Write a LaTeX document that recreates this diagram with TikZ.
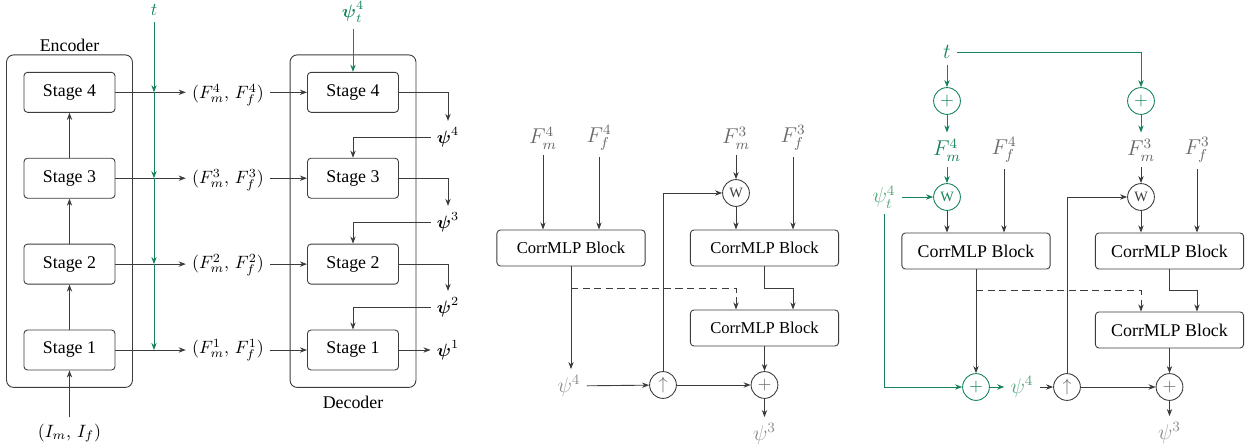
\documentclass[tikz,border=0pt]{standalone}
\usepackage{amsmath}
\usepackage{fontspec}
\setmainfont{LiberationSerif}[
    Extension=.ttf,
    UprightFont=*-Regular,
    BoldFont=*-Bold,
    ItalicFont=*-Italic,
    BoldItalicFont=*-BoldItalic]
\usetikzlibrary{positioning, calc, arrows.meta, fit}

\definecolor{tgreen}{RGB}{22,132,88}
\definecolor{tgreenl}{RGB}{80,165,122}
\definecolor{lnk}{RGB}{60,60,60}
\definecolor{lgray}{RGB}{105,105,105}
\definecolor{vlgray}{RGB}{140,140,140}

\begin{document}
\begin{tikzpicture}[
    x=0.56pt, y=-0.56pt,
    % Node styles
    stagebox/.style={
        draw=lnk, rounded corners=2pt, line width=0.5pt,
        minimum width=51pt, minimum height=22.4pt
    },
    blockbox/.style={
        draw=lnk, rounded corners=2pt, line width=0.5pt,
        minimum width=83pt, minimum height=20.2pt
    },
    opnode/.style={
        draw=lnk, circle, line width=0.5pt, text=lgray,
        minimum size=15pt, inner sep=0pt
    },
    gopnode/.style={opnode, draw=tgreen, text=tgreen},
    outerbox/.style={
        draw=lnk, rounded corners=4pt, line width=0.5pt, inner sep=9.5pt
    },
    biglbl/.style={font=\large},
    % Arrow styles
    arr/.style={-{Stealth[length=4pt, width=3pt]}, draw=lnk, line width=0.5pt},
    garr/.style={arr, draw=tgreen},
    dasharr/.style={arr, dash pattern=on 4pt off 2.5pt},
]
\useasboundingbox (0,0) rectangle (1248,448);

% ===== LEFT: encoder / decoder =====

% Encoder stages
\node[stagebox] (e1) at (69.5,350) {Stage 1};
\node[stagebox, above=25.2pt of e1] (e2) {Stage 2};
\node[stagebox, above=25.2pt of e2] (e3) {Stage 3};
\node[stagebox, above=25.2pt of e3] (e4) {Stage 4};
\draw[arr] (e1) -- (e2);
\draw[arr] (e2) -- (e3);
\draw[arr] (e3) -- (e4);

\node[outerbox, fit=(e1)(e4)] (enc) {};
\node (enc-lbl) at (69.5,45) {Encoder};

% Input
\node (inp) at (69.5,433) {$(I_m,\, I_f)$};
\draw[arr] (inp) -- (e1);

% Decoder stages
\node[stagebox] (d1) at (353,350) {Stage 1};
\node[stagebox, above=25.2pt of d1] (d2) {Stage 2};
\node[stagebox, above=25.2pt of d2] (d3) {Stage 3};
\node[stagebox, above=25.2pt of d3] (d4) {Stage 4};

\node[outerbox, fit=(d1)(d4)] (dec) {};
\node (dec-lbl) at (353,402) {Decoder};

% Feature pairs
\node (f1) at (228,350) {$(F^1_m,\, F^1_f)$};
\node (f2) at (228,265) {$(F^2_m,\, F^2_f)$};
\node (f3) at (228,180) {$(F^3_m,\, F^3_f)$};
\node (f4) at (228,95) {$(F^4_m,\, F^4_f)$};
\foreach \i in {1,...,4} {
    \draw[arr] (e\i.east) -- (e\i.east -| f\i.west);
    \draw[arr] (f\i.east |- d\i.west) -- (d\i.west);
}

% Time step line
\node[text=tgreen] (tin) at (154,10) {$t$};
\coordinate (tr4) at (tin |- e4);
\coordinate (tr3) at (tin |- e3);
\coordinate (tr2) at (tin |- e2);
\coordinate (tr1) at (tin |- e1);
\draw[garr] (tin) -- (tr4);
\draw[garr] (tr4) -- (tr3);
\draw[garr] (tr3) -- (tr2);
\draw[garr] (tr2) -- (tr1);

\node[text=tgreen] (psit) at (353,12) {$\boldsymbol{\psi}_t^4$};
\draw[garr] (psit) -- (d4.north);

% Deformation outputs
\node (p4) at (448,137) {$\boldsymbol{\psi}^4$};
\node (p3) at (448,222) {$\boldsymbol{\psi}^3$};
\node (p2) at (448,307) {$\boldsymbol{\psi}^2$};
\node (p1) at (448,350) {$\boldsymbol{\psi}^1$};
\draw[arr] (d4.east) -| (p4);
\draw[arr] (p4.west) -| (d3.north);
\draw[arr] (d3.east) -| (p3);
\draw[arr] (p3.west) -| (d2.north);
\draw[arr] (d2.east) -| (p2);
\draw[arr] (p2.west) -| (d1.north);
\draw[arr] (d1.east) -- (d1.east -| p1.west);

% ===== MIDDLE: coarse-to-fine step =====

\node[blockbox, font=\fontsize{9.3}{11}\selectfont] (mb1) at (571,248) {CorrMLP Block};
\node[blockbox, font=\fontsize{9.3}{11}\selectfont] (mb2) at (764.5,248) {CorrMLP Block};
\node[blockbox, font=\fontsize{9.3}{11}\selectfont] (mb3) at (764.5,328) {CorrMLP Block};

\node[biglbl, text=lgray] (mfm4) at (543,138) {$F^4_m$};
\node[biglbl, text=lgray] (mff4) at (599,138) {$F^4_f$};
\node[biglbl, text=lgray] (mfm3) at (736,138) {$F^3_m$};
\node[biglbl, text=lgray] (mff3) at (793,138) {$F^3_f$};
\node[opnode, text=lnk] (mw) at (736,193) {\footnotesize W};

\draw[arr] (mfm4) -- (mfm4 |- mb1.north);
\draw[arr] (mff4) -- (mff4 |- mb1.north);
\draw[arr] (mfm3) -- (mw);
\draw[arr] (mw) -- (mw |- mb2.north);
\draw[arr] (mff3) -- (mff3 |- mb2.north);

\coordinate (mj) at ($(mb2.south)!0.5!(mb3.north)$);
\draw[arr] (mb2.south) -- (mj) -| (mff3 |- mb3.north);
\draw[dasharr] (mb1.south |- mj) -| (mw |- mb3.north);

\node[biglbl, text=vlgray] (mpsi4) at (569,386) {$\psi^4$};
\node[opnode] (mup) at (663,385) {$\uparrow$};
\node[opnode] (mplus) at (764.5,385) {$+$};
\node[biglbl, text=vlgray] (mpsi3) at (764.5,434) {$\psi^3$};

\draw[arr] (mb1.south) -- (mb1.south |- mpsi4.north);
\draw[arr] (mpsi4) -- (mup);
\draw[arr] (mup) |- (mw);
\draw[arr] (mup) -- (mplus);
\draw[arr] (mb3) -- (mplus);
\draw[arr] (mplus) -- (mpsi3);

% ===== RIGHT: diffusion-conditioned step =====

\node[blockbox] (rb1) at (976,251) {CorrMLP Block};
\node[blockbox] (rb2) at (1169.5,251) {CorrMLP Block};
\node[blockbox] (rb3) at (1169.5,330) {CorrMLP Block};

\node[biglbl, text=tgreen] (rt) at (947,52) {$t$};
\node[gopnode] (rpa) at (947,101) {$+$};
\node[gopnode] (rpb) at (1141,101) {$+$};
\draw[garr] (rt) -- (rpa);
\draw[garr] (rt) -| (rpb);

\node[biglbl, text=tgreen] (rfm4) at (947,150) {$F^4_m$};
\node[biglbl, text=lgray] (rff4) at (1004,150) {$F^4_f$};
\node[biglbl, text=lgray] (rfm3) at (1141,150) {$F^3_m$};
\node[biglbl, text=lgray] (rff3) at (1197,150) {$F^3_f$};
\draw[garr] (rpa) -- (rfm4);
\draw[garr] (rpb) -- (rfm3);

\node[gopnode] (rwa) at (947,197) {\footnotesize W};
\node[opnode, text=lnk] (rwb) at (1141,197) {\footnotesize W};
\node[biglbl, text=tgreenl] (rpsit) at (884,197) {$\psi^4_t$};
\draw[garr] (rfm4) -- (rwa);
\draw[arr] (rfm3) -- (rwb);
\draw[garr] (rpsit) -- (rwa);

\draw[arr] (rwa) -- (rwa |- rb1.north);
\draw[arr] (rff4) -- (rff4 |- rb1.north);
\draw[arr] (rwb) -- (rwb |- rb2.north);
\draw[arr] (rff3) -- (rff3 |- rb2.north);

\coordinate (rj) at ($(rb2.south)!0.5!(rb3.north)$);
\draw[arr] (rb2.south) -- (rj) -| (rff3 |- rb3.north);
\draw[dasharr] (rb1.south |- rj) -| (rwb |- rb3.north);

\node[gopnode] (rsum) at (976,387) {$+$};
\node[biglbl, text=tgreenl] (rpsi4) at (1022,387) {$\psi^4$};
\node[opnode] (rup) at (1067,387) {$\uparrow$};
\node[opnode] (rplus) at (1169.5,387) {$+$};
\node[biglbl, text=vlgray] (rpsi3) at (1169.5,433) {$\psi^3$};

\draw[arr] (rb1) -- (rsum);
\draw[garr] (rpsit.south) |- (rsum);
\draw[garr] (rsum) -- (rpsi4);
\draw[arr] (rpsi4) -- (rup);
\draw[arr] (rup) |- (rwb);
\draw[arr] (rup) -- (rplus);
\draw[arr] (rb3) -- (rplus);
\draw[arr] (rplus) -- (rpsi3);

\end{tikzpicture}
\end{document}
